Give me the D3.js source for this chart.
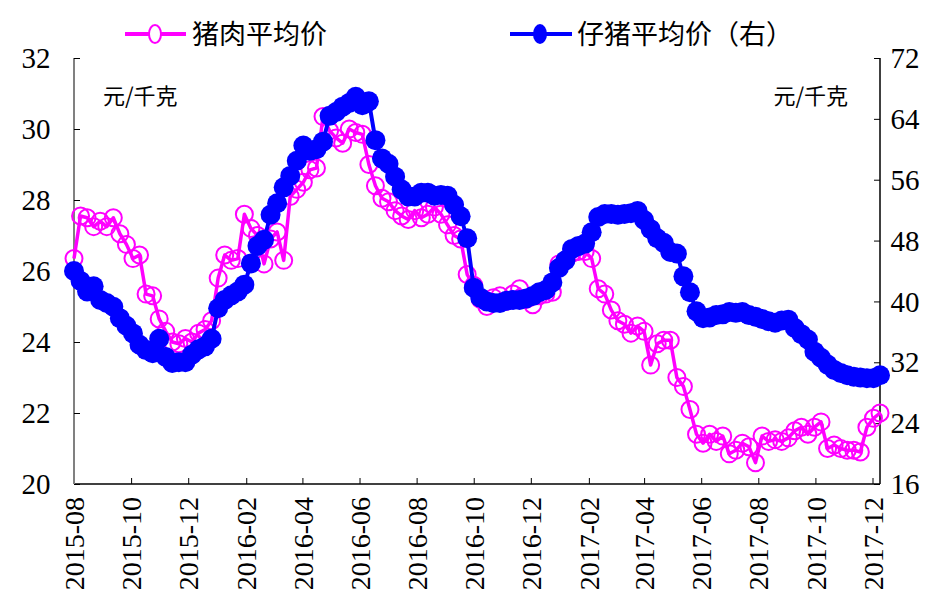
<!DOCTYPE html>
<html>
<head>
<meta charset="utf-8">
<script src="https://cdn.jsdelivr.net/npm/d3@7/dist/d3.min.js"></script>
<style>
  html, body { margin: 0; padding: 0; background: #fff; }
  svg { display: block; }
</style>
</head>
<body>
<svg id="chart" width="931" height="601"></svg>
<script>
// Weekly average prices, first week starting 2015-08-01
const startDate = "2015-08-01";

// 猪肉平均价 (元/千克, left axis)
const porkPrice = [
  26.35, 27.55, 27.5, 27.25, 27.4, 27.25, 27.5, 27.05, 26.75, 26.35,
  26.45, 25.35, 25.3, 24.65, 24.3, 24.0, 23.95, 24.1, 24.0, 24.25,
  24.35, 24.6, 25.8, 26.45, 26.3, 26.35, 27.6, 27.2, 27.0, 26.2,
  26.9, 27.1, 26.3, 28.1, 28.3, 28.5, 28.85, 28.9, 30.35, 29.95,
  29.75, 29.6, 30.0, 29.9, 29.85, 29.0, 28.4, 28.05, 27.95, 27.7,
  27.55, 27.45, 27.7, 27.5, 27.6, 27.8, 27.6, 27.3, 27.0, 26.9,
  25.9, 25.6, 25.2, 25.0, 25.25, 25.3, 25.15, 25.35, 25.5, 25.2,
  25.05, 25.3, 25.35, 25.4, 26.2, 26.3, 26.5, 26.55, 26.55, 26.35,
  25.5, 25.35, 24.9, 24.6, 24.5, 24.25, 24.45, 24.3, 23.35, 23.95,
  24.05, 24.05, 23.0, 22.75, 22.1, 21.4, 21.15, 21.4, 21.2, 21.35,
  20.85, 20.95, 21.15, 21.05, 20.6, 21.35, 21.2, 21.25, 21.2, 21.3,
  21.5, 21.6, 21.4, 21.6, 21.75, 21.0, 21.1, 21.0, 20.95, 20.95,
  20.9, 21.6, 21.85, 22.0
];

// 仔猪平均价 (元/千克, right axis)
const pigletPrice = [
  44.0, 42.7, 41.3, 42.0, 40.2, 39.8, 39.3, 37.8, 36.8, 35.8,
  34.3, 33.6, 33.2, 35.1, 32.7, 31.9, 32.0, 32.0, 33.0, 33.7,
  34.1, 35.1, 39.1, 40.2, 40.8, 41.3, 42.2, 45.0, 47.3, 48.1,
  51.4, 52.9, 55.0, 56.5, 58.5, 60.5, 59.8, 60.0, 61.0, 64.4,
  64.9, 65.6, 66.1, 66.9, 65.8, 66.3, 61.2, 58.8, 58.1, 56.4,
  54.7, 53.8, 53.8, 54.3, 54.3, 53.9, 54.0, 53.9, 52.7, 51.2,
  48.3, 41.8, 40.5, 40.0, 39.8, 39.8, 40.1, 40.2, 40.2, 40.4,
  40.7, 41.2, 41.5, 42.5, 44.4, 45.4, 46.9, 47.3, 47.6, 49.1,
  51.1, 51.5, 51.5, 51.4, 51.5, 51.6, 51.9, 50.7, 49.5, 48.3,
  47.7, 46.5, 46.3, 43.3, 41.2, 38.7, 37.8, 37.9, 38.2, 38.3,
  38.6, 38.5, 38.6, 38.2, 38.0, 37.7, 37.4, 37.2, 37.5, 37.6,
  36.5, 35.7, 35.0, 33.4, 32.6, 31.7, 31.0, 30.6, 30.3, 30.1,
  30.0, 29.9, 29.9, 30.3
];

const xTickLabels = [
  "2015-08", "2015-10", "2015-12", "2016-02", "2016-04", "2016-06", "2016-08",
  "2016-10", "2016-12", "2017-02", "2017-04", "2017-06", "2017-08", "2017-10", "2017-12"
];
const leftTicks = [20, 22, 24, 26, 28, 30, 32];
const rightTicks = [16, 24, 32, 40, 48, 56, 64, 72];

const seriesNames = ["猪肉平均价", "仔猪平均价（右）"];
const unitLabel = "元/千克";

// ---- layout ----
const plot = { left: 74, right: 880, top: 58, bottom: 484 };
const PINK = "#ff00ff", BLUE = "#0000ff";
const NUM_FONT = "'Liberation Serif', 'DejaVu Serif', serif";
const CJK_FONT = "'Noto Sans CJK SC', 'Noto Sans', sans-serif";

const parseDay = d3.timeParse("%Y-%m-%d");
const parseMonth = d3.timeParse("%Y-%m");
const t0 = parseDay(startDate);
const dates = porkPrice.map((_, i) => d3.timeDay.offset(t0, 7 * i));

const x = d3.scaleTime()
  .domain([dates[0], dates[dates.length - 1]])
  .range([plot.left, plot.right]);
const yL = d3.scaleLinear().domain([20, 32]).range([plot.bottom, plot.top]);
const yR = d3.scaleLinear().domain([16, 72]).range([plot.bottom, plot.top]);

const svg = d3.select("#chart");

// ---- axes ----
const xAxis = d3.axisBottom(x)
  .tickValues(xTickLabels.map(parseMonth))
  .tickSize(-6)
  .tickFormat("");
const gx = svg.append("g")
  .attr("transform", `translate(0,${plot.bottom})`)
  .call(xAxis);
gx.select(".domain").attr("stroke", "#000").attr("stroke-width", 1.5)
  .attr("d", `M${plot.left},0H${plot.right}`);
gx.selectAll(".tick line").attr("stroke", "#000").attr("stroke-width", 1);

// rotated month labels
svg.append("g").selectAll("text")
  .data(xTickLabels)
  .join("text")
  .attr("font-family", NUM_FONT)
  .attr("font-size", 28)
  .attr("fill", "#000")
  .attr("text-anchor", "end")
  .attr("transform", d => `translate(${x(parseMonth(d))},497) rotate(-90)`)
  .attr("dy", "0.36em")
  .text(d => d);

const gl = svg.append("g")
  .attr("transform", `translate(${plot.left},0)`)
  .call(d3.axisLeft(yL).tickValues(leftTicks).tickSize(-6).tickFormat(""));
gl.select(".domain").attr("stroke", "#808080").attr("stroke-width", 2)
  .attr("d", `M0,${plot.top}V${plot.bottom}`);
gl.selectAll(".tick line").attr("stroke", "#000");

svg.append("g").selectAll("text")
  .data(leftTicks)
  .join("text")
  .attr("font-family", NUM_FONT)
  .attr("font-size", 29)
  .attr("fill", "#000")
  .attr("text-anchor", "middle")
  .attr("x", 36)
  .attr("y", d => yL(d))
  .attr("dy", "0.35em")
  .text(d => d);

const gr = svg.append("g")
  .attr("transform", `translate(${plot.right},0)`)
  .call(d3.axisRight(yR).tickValues(rightTicks).tickSize(-6).tickFormat(""));
gr.select(".domain").attr("stroke", "#000").attr("stroke-width", 1.5)
  .attr("d", `M0,${plot.top}V${plot.bottom}`);
gr.selectAll(".tick line").attr("stroke", "#000");

svg.append("g").selectAll("text")
  .data(rightTicks)
  .join("text")
  .attr("font-family", NUM_FONT)
  .attr("font-size", 29)
  .attr("fill", "#000")
  .attr("text-anchor", "middle")
  .attr("x", 905)
  .attr("y", d => yR(d))
  .attr("dy", "0.35em")
  .text(d => d);

// unit labels
svg.append("text").attr("font-family", CJK_FONT).attr("font-size", 22)
  .attr("x", 103).attr("y", 104).text(unitLabel);
svg.append("text").attr("font-family", CJK_FONT).attr("font-size", 22)
  .attr("x", 848).attr("y", 104).attr("text-anchor", "end").text(unitLabel);

// ---- series ----
const porkLine = d3.line().x((d, i) => x(dates[i])).y(d => yL(d));
const pigletLine = d3.line().x((d, i) => x(dates[i])).y(d => yR(d));

svg.append("path")
  .datum(porkPrice)
  .attr("fill", "none").attr("stroke", PINK).attr("stroke-width", 3.5)
  .attr("stroke-linejoin", "round")
  .attr("d", porkLine);
svg.append("g").selectAll("circle")
  .data(porkPrice)
  .join("circle")
  .attr("cx", (d, i) => x(dates[i]))
  .attr("cy", d => yL(d))
  .attr("r", 8.5)
  .attr("fill", "none")
  .attr("stroke", PINK)
  .attr("stroke-width", 2);

svg.append("path")
  .datum(pigletPrice)
  .attr("fill", "none").attr("stroke", BLUE).attr("stroke-width", 4)
  .attr("stroke-linejoin", "round")
  .attr("d", pigletLine);
svg.append("g").selectAll("circle")
  .data(pigletPrice)
  .join("circle")
  .attr("cx", (d, i) => x(dates[i]))
  .attr("cy", d => yR(d))
  .attr("r", 10)
  .attr("fill", BLUE);

// ---- legend ----
const legend = svg.append("g");
legend.append("line").attr("x1", 125).attr("x2", 186).attr("y1", 34).attr("y2", 34)
  .attr("stroke", PINK).attr("stroke-width", 4);
legend.append("ellipse").attr("cx", 155).attr("cy", 34).attr("rx", 6).attr("ry", 9)
  .attr("fill", "#fff").attr("stroke", PINK).attr("stroke-width", 2);
legend.append("text").attr("font-family", CJK_FONT).attr("font-size", 27)
  .attr("x", 192).attr("y", 44).text(seriesNames[0]);

legend.append("line").attr("x1", 510).attr("x2", 572).attr("y1", 34).attr("y2", 34)
  .attr("stroke", BLUE).attr("stroke-width", 4);
legend.append("ellipse").attr("cx", 540).attr("cy", 34).attr("rx", 7).attr("ry", 10)
  .attr("fill", BLUE);
legend.append("text").attr("font-family", CJK_FONT).attr("font-size", 27)
  .attr("x", 577).attr("y", 44).text(seriesNames[1]);
</script>
</body>
</html>
